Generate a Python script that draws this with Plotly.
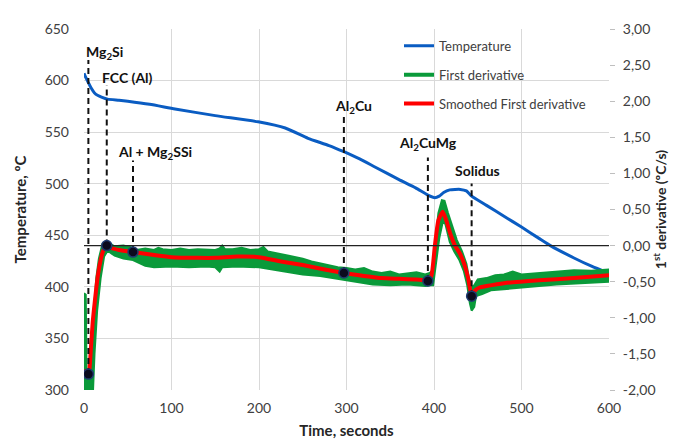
import plotly.graph_objects as go

# ---------------- data ----------------
temp_t = [0, 2, 5, 8, 12, 16, 20, 27, 40, 50, 75, 104, 150, 199, 230, 256, 280, 297, 315, 333,
          360, 379, 393, 401, 406, 411, 418, 430, 437, 443, 460, 480, 500, 520, 533, 560, 580, 600]
temp_v = [607, 603, 598, 593, 588, 585.5, 584, 582, 581, 580, 577, 572.5, 566, 560, 554, 544, 537, 531, 524, 516,
          504, 496, 489, 486.5, 488, 491.5, 494, 494.5, 493, 488, 479, 468.5, 458, 447, 440, 428, 420, 413]

smooth_t = [0, 5, 8, 10, 13, 16, 19, 22, 26, 30, 40, 56, 80, 100, 130, 150, 175, 200, 225, 250, 275, 297,
            320, 340, 360, 380, 393, 397, 401, 405, 410, 414, 419, 424, 430, 435, 439, 443, 447, 452, 460,
            480, 520, 560, 600]
smooth_v = [-1.72, -1.80, -1.40, -1.05, -0.70, -0.40, -0.20, -0.07, 0.0, -0.03, -0.06, -0.09, -0.13, -0.16,
            -0.17, -0.17, -0.15, -0.16, -0.22, -0.27, -0.33, -0.38, -0.42, -0.45, -0.46, -0.47, -0.48, -0.42,
            0.0, 0.35, 0.47, 0.35, 0.15, 0.0, -0.12, -0.27, -0.45, -0.70, -0.62, -0.58, -0.56, -0.52, -0.48,
            -0.45, -0.41]

# first derivative (noisy) band: upper and lower edges
deriv_hi_t = [0, 2, 3, 5, 8, 11, 14, 17, 21, 26, 30, 35, 45, 56, 60, 70, 80, 85, 90, 100, 110, 120, 130,
              140, 150, 155, 158, 161, 170, 180, 190, 200, 205, 210, 225, 240, 250, 260, 270, 280, 290, 300,
              310, 320, 330, 340, 350, 360, 370, 380, 390, 395, 398, 401, 405, 409, 412, 416, 421, 426, 432,
              437, 440, 443, 446, 450, 460, 470, 480, 490, 500, 520, 540, 560, 580, 600]
deriv_hi_v = [-0.66, -0.68, -1.85, -1.90, -1.50, -0.90, -0.45, -0.18, 0.02, 0.05, 0.02, -0.01, 0.0, -0.03,
              -0.06, -0.04, -0.06, -0.03, -0.05, -0.06, -0.04, -0.06, -0.05, -0.05, -0.06, -0.04, 0.0, -0.05,
              -0.05, -0.03, -0.06, -0.05, -0.02, -0.08, -0.12, -0.15, -0.18, -0.22, -0.25, -0.27, -0.30, -0.31,
              -0.33, -0.31, -0.36, -0.38, -0.36, -0.40, -0.39, -0.37, -0.40, -0.38, -0.35, 0.0, 0.45, 0.63,
              0.62, 0.45, 0.25, 0.08, -0.08, -0.25, -0.45, -0.58, -0.55, -0.47, -0.45, -0.41, -0.40, -0.36,
              -0.40, -0.38, -0.37, -0.34, -0.35, -0.33]
deriv_lo_t = [0, 10, 12, 15, 19, 23, 27, 35, 45, 56, 70, 80, 100, 120, 140, 150, 155, 158, 175, 200, 220,
              240, 250, 270, 290, 310, 330, 350, 370, 390, 396, 399, 402, 406, 410, 413, 418, 423, 429, 434,
              438, 441, 443, 446, 448, 455, 465, 480, 500, 520, 540, 560, 580, 600]
deriv_lo_v = [-2.10, -2.10, -1.50, -0.90, -0.45, -0.15, -0.07, -0.14, -0.18, -0.20, -0.28, -0.30, -0.29,
              -0.30, -0.29, -0.30, -0.36, -0.30, -0.29, -0.30, -0.33, -0.38, -0.40, -0.42, -0.47, -0.50, -0.54,
              -0.55, -0.54, -0.56, -0.55, -0.55, -0.25, 0.10, 0.33, 0.30, 0.05, -0.08, -0.20, -0.35, -0.55,
              -0.80, -0.90, -0.85, -0.70, -0.67, -0.62, -0.60, -0.58, -0.56, -0.54, -0.52, -0.51, -0.50]

# phase events: time, derivative at the point, top of the dashed marker line
event_names = ["Mg<sub>2</sub>Si", "FCC (Al)", "Al + Mg<sub>2</sub>SSi", "Al<sub>2</sub>Cu",
               "Al<sub>2</sub>CuMg", "Solidus"]
event_t = [5, 26, 56, 297, 393, 443]
event_d = [-1.78, 0.0, -0.09, -0.38, -0.49, -0.70]
event_top = [2.57, 2.22, 1.18, 1.80, 1.22, 0.86]
label_t = [0, 18.3, 36.6, 284.6, 357.7, 421.7]
label_T = [627.3, 602.7, 529.9, 575.3, 539.3, 512.8]

x_ticks = [0, 100, 200, 300, 400, 500, 600]
y_ticks = [300, 350, 400, 450, 500, 550, 600, 650]
y2_ticks = [-2.0, -1.5, -1.0, -0.5, 0.0, 0.5, 1.0, 1.5, 2.0, 2.5, 3.0]
y2_text = ["-2,00", "-1,50", "-1,00", "-0,50", "0,00", "0,50", "1,00", "1,50", "2,00", "2,50", "3,00"]

FONT = "Lato"
BLUE = "#0a5cc2"
GREEN = "#0a9a3a"
RED = "#ff0000"

fig = go.Figure()

fig.add_trace(go.Scatter(x=temp_t, y=temp_v, mode="lines", name="Temperature",
                         line=dict(color=BLUE, width=3, shape="spline", smoothing=0.5),
                         legendgroup="a", yaxis="y"))

# green band
band_x = deriv_hi_t + deriv_lo_t[::-1]
band_y = deriv_hi_v + deriv_lo_v[::-1]
fig.add_trace(go.Scatter(x=band_x, y=band_y, mode="lines", fill="toself", fillcolor=GREEN,
                         line=dict(color=GREEN, width=2), showlegend=False, hoverinfo="skip",
                         yaxis="y2"))
fig.add_trace(go.Scatter(x=[None], y=[None], mode="lines", name="First derivative",
                         line=dict(color=GREEN, width=4), legendgroup="b", yaxis="y2"))

fig.add_trace(go.Scatter(x=smooth_t, y=smooth_v, mode="lines", name="Smoothed First derivative",
                         line=dict(color=RED, width=4, shape="spline", smoothing=0.5),
                         legendgroup="c", yaxis="y2"))

# dashed marker lines
for t, d, top in zip(event_t, event_d, event_top):
    fig.add_trace(go.Scatter(x=[t, t], y=[d, top], mode="lines", showlegend=False, hoverinfo="skip",
                             line=dict(color="#111111", width=2, dash="6px,4px"), yaxis="y2"))

# zero line
fig.add_trace(go.Scatter(x=[-3, 600], y=[0, 0], mode="lines", showlegend=False, hoverinfo="skip",
                         line=dict(color="#222222", width=1.2), yaxis="y2", cliponaxis=False))

fig.add_trace(go.Scatter(x=event_t, y=event_d, mode="markers", showlegend=False,
                         marker=dict(size=10, color="#0b0b1e", line=dict(color="#1f3b70", width=1.5)),
                         yaxis="y2"))

for name, t, T in zip(event_names, label_t, label_T):
    fig.add_annotation(x=t, y=T, xref="x", yref="y", text="<b>" + name + "</b>", showarrow=False,
                       xanchor="left", yanchor="middle", font=dict(family=FONT, size=14, color="#111111"))

fig.update_layout(
    width=677, height=441,
    margin=dict(l=76, r=76, t=18, b=53),
    paper_bgcolor="white", plot_bgcolor="white",
    font=dict(family=FONT, size=14, color="#404040"),
    showlegend=True,
    legend=dict(x=0.60, y=0.995, xanchor="left", yanchor="top", bgcolor="rgba(0,0,0,0)",
                font=dict(family=FONT, size=13, color="#404040"), tracegroupgap=9,
                itemwidth=30),
    xaxis=dict(range=[0, 600], tickvals=x_ticks, showgrid=True, gridcolor="#d9d9d9", gridwidth=1,
               zeroline=False, showline=False, ticks="", ticklabelstandoff=8,
               tickfont=dict(family=FONT, size=14, color="#404040"),
               title=dict(text="<b>Time, seconds</b>", standoff=10,
                          font=dict(family=FONT, size=15, color="#262626"))),
    yaxis=dict(range=[300, 650], tickvals=y_ticks, showgrid=True, gridcolor="#d9d9d9", gridwidth=1,
               zeroline=False, showline=False, ticks="", ticklabelstandoff=14,
               tickfont=dict(family=FONT, size=14, color="#404040"),
               title=dict(text="<b>Temperature, ºC</b>", standoff=14,
                          font=dict(family=FONT, size=15, color="#262626"))),
    yaxis2=dict(range=[-2, 3], tickvals=y2_ticks, ticktext=y2_text, overlaying="y", side="right",
                showgrid=False, zeroline=False, showline=False, ticks="outside", ticklen=5,
                tickcolor="#bfbfbf", ticklabelstandoff=5,
                tickfont=dict(family=FONT, size=14, color="#404040"),
                title=dict(text="<b>1<sup>st</sup> derivative (ºC/s)</b>", standoff=0,
                           font=dict(family=FONT, size=14, color="#262626"))),
)

fig.write_html("out.html")
